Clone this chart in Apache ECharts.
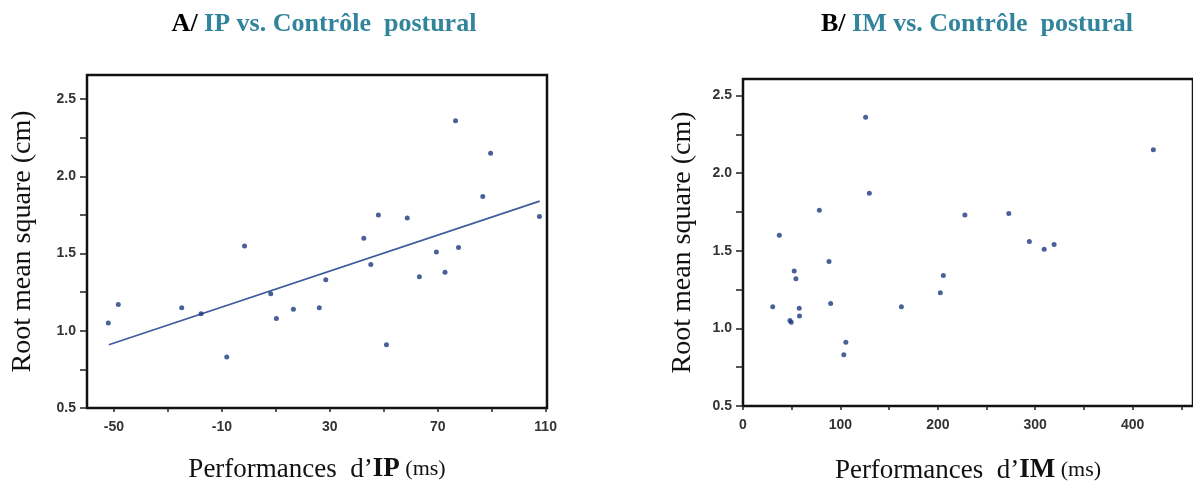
<!DOCTYPE html>
<html>
<head>
<meta charset="utf-8">
<script src="https://cdn.jsdelivr.net/npm/echarts@6/dist/echarts.min.js"></script>
<style>html,body{margin:0;padding:0;background:#fff}#c{width:1193px;height:489px}</style>
</head>
<body>
<div id="c"></div>
<script>
// Panel A: IP performance vs RMS
const ipX = [-52.1,-48.4,-24.9,-17.7,-8.2,-1.6,8.1,10.2,16.5,26.1,28.5,42.6,45.2,48.0,51.0,58.7,63.2,69.5,72.7,76.6,77.7,86.7,89.6,107.7];
const ipY = [1.05,1.17,1.15,1.11,0.83,1.55,1.24,1.08,1.14,1.15,1.33,1.60,1.43,1.75,0.91,1.73,1.35,1.51,1.38,2.36,1.54,1.87,2.15,1.74];
// Fitted line endpoints
const fitX = [-51.9,107.8];
const fitY = [0.91,1.84];
// Panel B: IM performance vs RMS
const imX = [30.5,37.3,48.2,49.5,52.6,54.3,57.7,58.0,78.4,88.3,90.0,103.5,105.6,125.9,129.7,162.6,202.6,205.7,227.8,272.9,294.0,309.2,319.4,421.3];
const imY = [1.14,1.60,1.05,1.04,1.37,1.32,1.13,1.08,1.76,1.43,1.16,0.83,0.91,2.36,1.87,1.14,1.23,1.34,1.73,1.74,1.56,1.51,1.54,2.15];
// Tick labels
const ipXLabels = [-50,-10,30,70,110];
const ipXTicks = [-50,-30,-10,10,30,50,70,90,110];
const imXLabels = [0,100,200,300,400];
const imXTicks = [0,50,100,150,200,250,300,350,400,450];
const yLabels = [0.5,1.0,1.5,2.0,2.5];
const yTicks = [0.5,0.75,1.0,1.25,1.5,1.75,2.0,2.25,2.5];

const zip = (a,b) => a.map((v,i)=>[v,b[i]]);
const teal = '#31849B';
const serif = '"Liberation Serif","DejaVu Serif",serif';
const sans = '"Liberation Sans",Arial,sans-serif';

const labelStyle = {color:'#333', fontFamily:sans, fontWeight:'bold', fontSize:14};

function xAxisDef(gi, min, max, labels, ticks, nameKey, nameGap){
  return {
    type:'value', gridIndex:gi, min:min, max:max,
    splitLine:{show:false},
    axisLine:{show:true, onZero:false, lineStyle:{color:'#111', width:2}},
    axisTick:{show:true, customValues:ticks, length:4, lineStyle:{color:'#222', width:1.5}},
    axisLabel:Object.assign({customValues:labels, margin:12, formatter:v=>String(Math.round(v))}, labelStyle),
    name:'{n|Performances  d’}{b|'+nameKey+'}{s| (ms)}',
    nameLocation:'middle', nameGap:nameGap,
    nameTextStyle:{rich:{
      n:{fontFamily:serif, fontSize:27, color:'#111'},
      b:{fontFamily:serif, fontSize:27, fontWeight:'bold', color:'#111'},
      s:{fontFamily:serif, fontSize:22, color:'#111'}
    }}
  };
}
function yAxisDef(gi, max, nameGap){
  return {
    type:'value', gridIndex:gi, min:0.5, max:max,
    splitLine:{show:false},
    axisLine:{show:true, onZero:false, lineStyle:{color:'#111', width:2}},
    axisTick:{show:true, customValues:yTicks, length:7, lineStyle:{color:'#222', width:1.5}},
    axisLabel:Object.assign({customValues:yLabels, margin:11, formatter:v=>v.toFixed(1)}, labelStyle),
    name:'Root mean square (cm)',
    nameLocation:'middle', nameGap:nameGap,
    nameTextStyle:{fontFamily:serif, fontSize:28, color:'#111'}
  };
}

const chart = echarts.init(document.getElementById('c'), null, {renderer:'canvas'});
chart.setOption({
  backgroundColor:'#fff',
  animation:false,
  title:[
    {text:'{k|A/ }{t|IP vs. Contrôle  postural}', left:319, top:6, textAlign:'center',
     textStyle:{rich:{k:{fontFamily:serif,fontWeight:'bold',fontSize:26,color:'#000'},
                      t:{fontFamily:serif,fontWeight:'bold',fontSize:26,color:teal}}}},
    {text:'{k|B/ }{t|IM vs. Contrôle  postural}', left:972, top:6, textAlign:'center',
     textStyle:{rich:{k:{fontFamily:serif,fontWeight:'bold',fontSize:26,color:'#000'},
                      t:{fontFamily:serif,fontWeight:'bold',fontSize:26,color:teal}}}}
  ],
  grid:[
    {left:87, width:460, top:75, height:333, show:true, borderColor:'#111', borderWidth:2.5, backgroundColor:'transparent'},
    {left:743, width:454, top:79, height:333, show:true, borderColor:'#111', borderWidth:2.5, backgroundColor:'transparent'}
  ],
  xAxis:[
    xAxisDef(0, -60, 110.5, ipXLabels, ipXTicks, 'IP', 48),
    xAxisDef(1, 0, 462, imXLabels, imXTicks, 'IM', 51)
  ],
  yAxis:[
    yAxisDef(0, 2.657, 50),
    yAxisDef(1, 2.606, 46)
  ],
  series:[
    {type:'line', xAxisIndex:0, yAxisIndex:0, data:zip(fitX,fitY), symbol:'none',
     lineStyle:{color:'#3d5c9c', width:1.6}, z:2},
    {type:'scatter', xAxisIndex:0, yAxisIndex:0, data:zip(ipX,ipY), symbolSize:5,
     itemStyle:{color:'#1c3a7e'}, z:3},
    {type:'scatter', xAxisIndex:1, yAxisIndex:1, data:zip(imX,imY), symbolSize:5,
     itemStyle:{color:'#1c3a7e'}, z:3}
  ]
});
</script>
</body>
</html>
